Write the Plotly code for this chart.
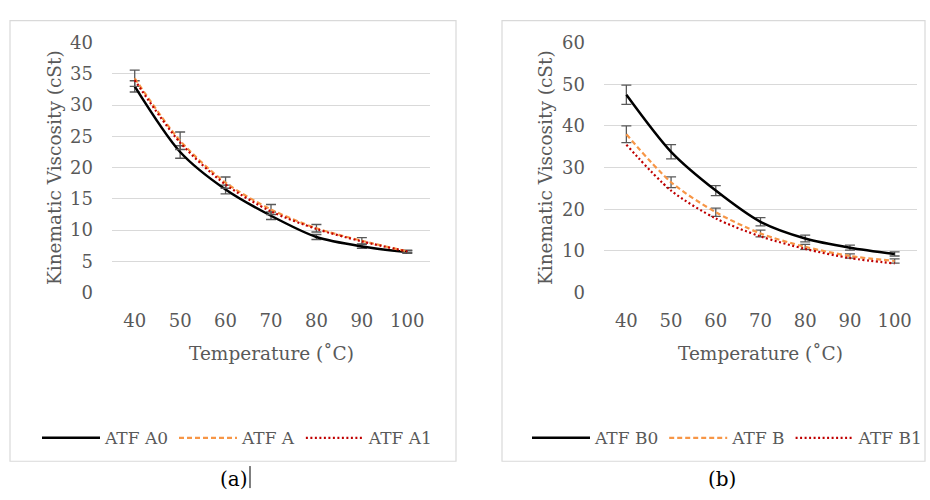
import plotly.graph_objects as go

temps = [40, 50, 60, 70, 80, 90, 100]
y_ticks_a = [0, 5, 10, 15, 20, 25, 30, 35, 40]
y_ticks_b = [0, 10, 20, 30, 40, 50, 60]

atf_a0 = [33.0, 22.5, 16.5, 12.3, 8.9, 7.4, 6.5]
atf_a0_err = [0.9, 1.0, 0.7, 0.6, 0.4, 0.3, 0.2]
atf_a = [34.3, 24.3, 17.6, 13.3, 10.3, 8.3, 6.6]
atf_a_err = [1.3, 1.4, 0.9, 0.8, 0.6, 0.5, 0.2]
atf_a1 = [34.0, 24.0, 17.3, 13.0, 10.2, 8.2, 6.6]

atf_b0 = [47.5, 33.8, 24.5, 17.0, 13.0, 10.8, 9.3]
atf_b0_err = [2.3, 1.7, 1.2, 1.0, 0.8, 0.6, 0.5]
atf_b = [38.0, 26.5, 19.3, 14.2, 11.0, 8.8, 7.6]
atf_b_err = [2.0, 1.3, 1.0, 0.8, 0.6, 0.5, 0.5]
atf_b1 = [35.5, 24.5, 17.8, 13.5, 10.5, 8.3, 7.0]

GRAY = "#595959"
ORANGE = "#F79646"
RED = "#C00000"
ERR = dict(type="data", thickness=1.3, width=5, color=GRAY)
W, H = 930, 500
SERIF = "DejaVu Serif"

def px(x):
    return x / W

def py(y):
    return 1 - y / H

fig = go.Figure()

def add(name, y, err, color, dash, width, xa, ya, legend):
    fig.add_trace(go.Scatter(
        x=temps, y=y, name=name, mode="lines",
        line=dict(color=color, dash=dash, width=width, shape="spline", smoothing=0.8),
        error_y=(dict(array=err, **ERR) if err is not None else None),
        xaxis=xa, yaxis=ya, legend=legend,
    ))

add("ATF A0", atf_a0, atf_a0_err, "#000000", "solid", 2.5, "x", "y", "legend")
add("ATF A", atf_a, atf_a_err, ORANGE, "5px,3px", 2.2, "x", "y", "legend")
add("ATF A1", atf_a1, None, RED, "2px,2.5px", 2.2, "x", "y", "legend")
add("ATF B0", atf_b0, atf_b0_err, "#000000", "solid", 2.5, "x2", "y2", "legend2")
add("ATF B", atf_b, atf_b_err, ORANGE, "5px,3px", 2.2, "x2", "y2", "legend2")
add("ATF B1", atf_b1, None, RED, "2px,2.5px", 2.2, "x2", "y2", "legend2")

tickfont = dict(family=SERIF, size=18, color=GRAY)
xcommon = dict(range=[35, 105], tickvals=temps, showgrid=False, zeroline=False,
               showline=False, ticks="", tickfont=tickfont, fixedrange=True,
               ticklabelstandoff=15)
ycommon = dict(showgrid=True, gridcolor="#D9D9D9", gridwidth=1, zeroline=False,
               showline=False, ticks="", tickfont=tickfont, fixedrange=True,
               ticklabelstandoff=18)

legend_font = dict(family=SERIF, size=17, color=GRAY)
legend_common = dict(orientation="h", font=legend_font, bgcolor="rgba(0,0,0,0)",
                     itemwidth=58, yanchor="middle", xanchor="left", traceorder="normal",
                     tracegroupgap=0)

title_font = dict(family=SERIF, size=18.5, color=GRAY)

fig.update_layout(
    width=W, height=H, margin=dict(l=0, r=0, t=0, b=0),
    paper_bgcolor="white", plot_bgcolor="white",
    xaxis=dict(domain=[px(112), px(430)], anchor="y", **xcommon),
    yaxis=dict(domain=[py(294), py(33)], anchor="x", range=[0, 40], tickvals=y_ticks_a,
               **ycommon),
    xaxis2=dict(domain=[px(604), px(917)], anchor="y2", **xcommon),
    yaxis2=dict(domain=[py(294), py(33)], anchor="x2", range=[0, 60], tickvals=y_ticks_b,
                **ycommon),
    legend=dict(x=px(37), y=py(446), **legend_common),
    legend2=dict(x=px(527), y=py(446), **legend_common),
    shapes=[
        dict(type="rect", xref="paper", yref="paper", x0=px(10), x1=px(456),
             y0=py(470), y1=py(10), line=dict(color="#D9D9D9", width=1.2)),
        dict(type="rect", xref="paper", yref="paper", x0=px(502), x1=px(925),
             y0=py(470), y1=py(10), line=dict(color="#D9D9D9", width=1.2)),
        dict(type="line", xref="paper", yref="paper", x0=px(250), x1=px(250),
             y0=py(498), y1=py(475), line=dict(color="#000000", width=1)),
    ],
    annotations=[
        dict(text="Temperature (˚C)", x=px(271), y=py(357), xref="paper", yref="paper",
             xanchor="center", yanchor="middle", showarrow=False, font=title_font),
        dict(text="Temperature (˚C)", x=px(760), y=py(357), xref="paper", yref="paper",
             xanchor="center", yanchor="middle", showarrow=False, font=title_font),
        dict(text="Kinematic Viscosity (cSt)", x=px(54), y=py(164), xref="paper",
             yref="paper", xanchor="center", yanchor="middle", showarrow=False,
             textangle=-90, font=title_font),
        dict(text="Kinematic Viscosity (cSt)", x=px(545), y=py(164), xref="paper",
             yref="paper", xanchor="center", yanchor="middle", showarrow=False,
             textangle=-90, font=title_font),
        dict(text="(a)", x=px(234), y=py(488), xref="paper", yref="paper",
             xanchor="center", yanchor="middle", showarrow=False,
             font=dict(family=SERIF, size=20, color="#000000")),
        dict(text="(b)", x=px(722), y=py(488), xref="paper", yref="paper",
             xanchor="center", yanchor="middle", showarrow=False,
             font=dict(family=SERIF, size=20, color="#000000")),
    ],
)

fig.write_html("out.html", config={"displayModeBar": False},
               post_script="document.body.style.margin='0';")
